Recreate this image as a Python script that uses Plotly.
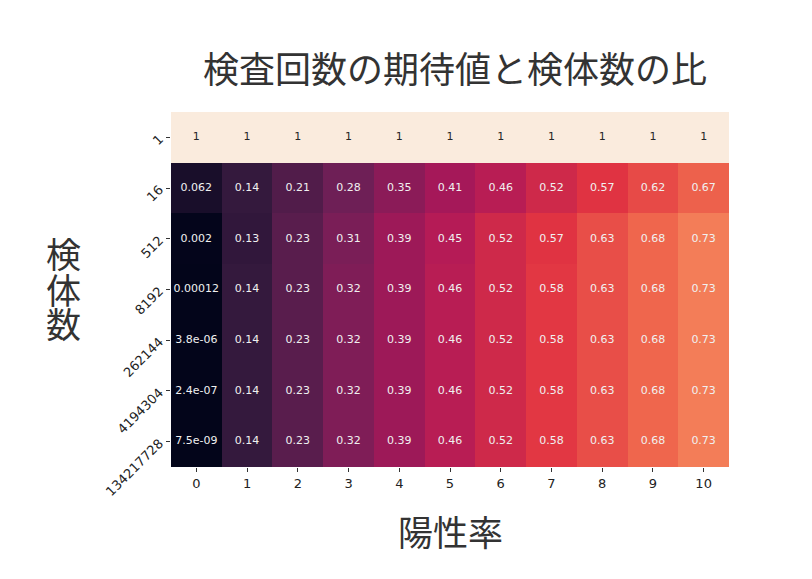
import plotly.graph_objects as go

x_labels = ["0", "1", "2", "3", "4", "5", "6", "7", "8", "9", "10"]
y_labels = ["1", "16", "512", "8192", "262144", "4194304", "134217728"]

row_1 = [1, 1, 1, 1, 1, 1, 1, 1, 1, 1, 1]
row_16 = [0.062, 0.14, 0.21, 0.28, 0.35, 0.41, 0.46, 0.52, 0.57, 0.62, 0.67]
row_512 = [0.002, 0.13, 0.23, 0.31, 0.39, 0.45, 0.52, 0.57, 0.63, 0.68, 0.73]
row_8192 = [0.00012, 0.14, 0.23, 0.32, 0.39, 0.46, 0.52, 0.58, 0.63, 0.68, 0.73]
row_262144 = [3.8e-06, 0.14, 0.23, 0.32, 0.39, 0.46, 0.52, 0.58, 0.63, 0.68, 0.73]
row_4194304 = [2.4e-07, 0.14, 0.23, 0.32, 0.39, 0.46, 0.52, 0.58, 0.63, 0.68, 0.73]
row_134217728 = [7.5e-09, 0.14, 0.23, 0.32, 0.39, 0.46, 0.52, 0.58, 0.63, 0.68, 0.73]

z = [row_1, row_16, row_512, row_8192, row_262144, row_4194304, row_134217728]

rocket = [
    [0.0, "#03051a"],
    [1 / 7, "#35193e"],
    [2 / 7, "#701f57"],
    [3 / 7, "#ad1759"],
    [4 / 7, "#e13342"],
    [5 / 7, "#f37651"],
    [6 / 7, "#f6b48f"],
    [1.0, "#faebdd"],
]

fig = go.Figure()
fig.add_trace(go.Heatmap(
    z=z, x=x_labels, y=y_labels, colorscale=rocket, zmin=0, zmax=1,
    showscale=False, hoverinfo="skip", xgap=0, ygap=0,
))

tx, ty, tt, tc = [], [], [], []
for yi, row in zip(y_labels, z):
    for xi, v in zip(x_labels, row):
        tx.append(xi)
        ty.append(yi)
        tt.append(f"{v:.2g}")
        tc.append("#262626" if v > 0.85 else "#f0f0f0")

fig.add_trace(go.Scatter(
    x=tx, y=ty, mode="text", text=tt,
    textfont=dict(size=11, color=tc, family="DejaVu Sans"),
    hoverinfo="skip", showlegend=False,
))

cjk = dict(size=35, color="#333333", family="Noto Sans CJK JP")
ylab_chars = ["検", "体", "数"]
ylab_pos = [0.603, 0.504, 0.406]

annotations = [
    dict(text="陽性率", xref="paper", yref="paper", x=0.5, y=-0.178,
         xanchor="center", yanchor="middle", showarrow=False, font=cjk),
]
for ch, py in zip(ylab_chars, ylab_pos):
    annotations.append(dict(text=ch, xref="paper", yref="paper", x=-0.1935, y=py,
                            xanchor="center", yanchor="middle", showarrow=False,
                            font=cjk))

fig.update_layout(
    width=804, height=571,
    margin=dict(l=163, r=83, t=104, b=112, autoexpand=False),
    paper_bgcolor="white", plot_bgcolor="white",
    showlegend=False,
    title=dict(text="検査回数の期待値と検体数の比", x=0.556, xanchor="center",
               y=0.891, yanchor="middle",
               font=dict(size=36, color="#333333", family="Noto Sans CJK JP")),
    xaxis=dict(type="category", ticks="outside", ticklen=4, tickcolor="#333",
               range=[-0.5, len(x_labels) - 0.5],
               tickfont=dict(size=13, color="#222", family="DejaVu Sans"),
               showgrid=False, zeroline=False, showline=False, automargin=False),
    yaxis=dict(type="category", ticks="outside", ticklen=4,
               range=[len(y_labels) - 0.5, -0.5],
               tickcolor="#333", tickangle=-45, ticklabelstandoff=4,
               tickfont=dict(size=13, color="#222", family="DejaVu Sans"),
               showgrid=False, zeroline=False, showline=False, automargin=False),
    annotations=annotations,
)

fig.write_html("out.html")
